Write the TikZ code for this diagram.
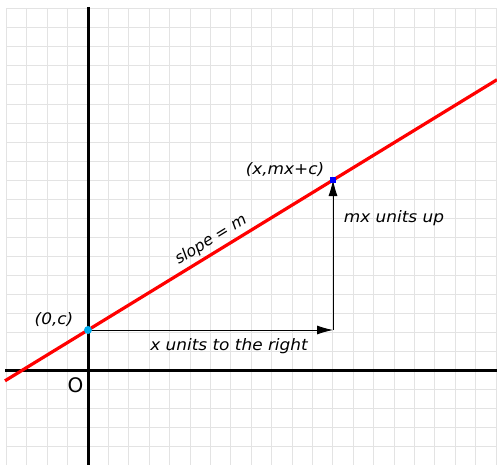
\documentclass[tikz,border=0pt]{standalone}
\usepackage{fontspec}
\usepackage{graphicx}
\setmainfont{DejaVu Sans}
\usetikzlibrary{arrows.meta}
\newcommand\hsx[1]{\scalebox{1.07}[1]{#1}}
\tikzset{
  gridline/.style={draw=black!11, line width=0.9pt},
  axisline/.style={draw=black, line width=3pt},
  graphline/.style={draw=red, line width=3.2pt},
  stepline/.style={draw=black, line width=0.8pt, -{Latex[length=16pt,width=9pt]}},
  lbl/.style={font=\fontsize{15.8}{19}\selectfont\itshape, inner sep=0pt},
}
\begin{document}
\begin{tikzpicture}[x=1pt,y=-1pt]
\useasboundingbox (0,0) rectangle (497,465);
\fill[white] (0,0) rectangle (497,465);
% grid
\foreach \k in {-4,...,20} {
  \draw[gridline] ({88+20.4*\k},8.7) -- ({88+20.4*\k},465);
}
\foreach \k in {-19,...,4} {
  \draw[gridline] (6.4,{370.7+19.05*\k}) -- (497,{370.7+19.05*\k});
}
% axes
\coordinate (yt) at (88,7);
\coordinate (yb) at (88,465);
\coordinate (xl) at (5,370.7);
\coordinate (xr) at (497,370.7);
\draw[axisline] (yt) -- (yb);
\draw[axisline] (xl) -- (xr);
% graph line
\coordinate (la) at (5,380.8);
\coordinate (lb) at (497,79.7);
\draw[graphline] (la) -- (lb);
% points
\coordinate (p0) at (88,330);
\coordinate (c1) at (333,330);
\coordinate (p1) at (333,180);
\draw[stepline] (p0) -- (c1);
\draw[stepline] (c1) -- (p1);
\node[circle, fill=cyan, inner sep=0pt, minimum size=8pt] (d0) at (p0) {};
\node[rectangle, fill=blue, inner sep=0pt, minimum size=6pt] (d1) at (p1) {};
% labels
\node[lbl] (t0) at (54,320) {\hsx{(0,c)}};
\node[lbl] (t1) at (285,170) {\hsx{(x,mx+c)}};
\node[lbl, rotate=31.5] (ts) at (211,240) {slope = m};
\node[lbl] (tu) at (394,218) {\hsx{mx units up}};
\node[lbl] (tr) at (229,346) {\hsx{x units to the right}};
\node[font=\fontsize{20}{24}\selectfont, inner sep=0pt] (o) at (75.5,385.5) {O};
\end{tikzpicture}
\end{document}
